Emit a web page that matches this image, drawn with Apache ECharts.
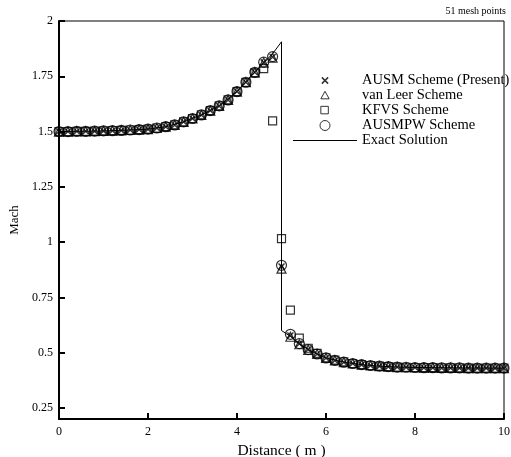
<!DOCTYPE html>
<html>
<head>
  <meta charset="utf-8">
  <title>Mach number - 51 mesh points</title>
  <script src="https://cdn.jsdelivr.net/npm/echarts@6/dist/echarts.min.js"></script>
  <style>html,body{margin:0;padding:0;background:#fff;}</style>
</head>
<body>
  <div id="chart" style="width: 511px; height: 457px;"></div>

  <script>
    // mesh positions (m)
    const distance = [0, 0.2, 0.4, 0.6, 0.8, 1.0, 1.2, 1.4, 1.6, 1.8, 2.0, 2.2, 2.4, 2.6, 2.8, 3.0, 3.2, 3.4, 3.6, 3.8,
      4.0, 4.2, 4.4, 4.6, 4.8, 5.0, 5.2, 5.4, 5.6, 5.8, 6.0, 6.2, 6.4, 6.6, 6.8, 7.0, 7.2, 7.4, 7.6, 7.8,
      8.0, 8.2, 8.4, 8.6, 8.8, 9.0, 9.2, 9.4, 9.6, 9.8, 10.0];

    // Mach numbers
    const ausm = [1.500, 1.500, 1.501, 1.501, 1.502, 1.503, 1.504, 1.505, 1.507, 1.509, 1.511, 1.516, 1.522, 1.530, 1.544,
      1.559, 1.575, 1.595, 1.616, 1.643, 1.681, 1.723, 1.768, 1.813, 1.837,
      0.890, 0.578, 0.540, 0.514, 0.494, 0.476, 0.465, 0.457, 0.451, 0.446, 0.442, 0.439, 0.437, 0.435, 0.434,
      0.433, 0.432, 0.432, 0.431, 0.431, 0.431, 0.430, 0.430, 0.430, 0.430, 0.430];
    const vanLeer = [1.500, 1.500, 1.501, 1.501, 1.502, 1.503, 1.504, 1.505, 1.507, 1.509, 1.511, 1.516, 1.522, 1.530, 1.544,
      1.559, 1.575, 1.595, 1.616, 1.643, 1.681, 1.723, 1.768, 1.812, 1.834,
      0.880, 0.572, 0.538, 0.513, 0.494, 0.476, 0.465, 0.457, 0.451, 0.446, 0.442, 0.439, 0.437, 0.435, 0.434,
      0.433, 0.432, 0.432, 0.431, 0.431, 0.431, 0.430, 0.430, 0.430, 0.430, 0.430];
    const kfvs = [1.500, 1.500, 1.501, 1.501, 1.502, 1.503, 1.504, 1.505, 1.507, 1.509, 1.511, 1.516, 1.522, 1.530, 1.544,
      1.559, 1.575, 1.595, 1.616, 1.643, 1.681, 1.722, 1.765, 1.785, 1.548,
      1.016, 0.692, 0.566, 0.520, 0.497, 0.477, 0.466, 0.458, 0.451, 0.446, 0.442, 0.439, 0.437, 0.435, 0.434,
      0.433, 0.432, 0.432, 0.431, 0.431, 0.431, 0.430, 0.430, 0.430, 0.430, 0.430];
    const ausmpw = [1.500, 1.500, 1.501, 1.501, 1.502, 1.503, 1.504, 1.505, 1.507, 1.509, 1.511, 1.516, 1.522, 1.530, 1.544,
      1.559, 1.575, 1.595, 1.616, 1.643, 1.681, 1.723, 1.768, 1.814, 1.839,
      0.895, 0.583, 0.541, 0.514, 0.494, 0.476, 0.465, 0.457, 0.451, 0.446, 0.442, 0.439, 0.437, 0.435, 0.434,
      0.433, 0.432, 0.432, 0.431, 0.431, 0.431, 0.430, 0.430, 0.430, 0.430, 0.430];

    // exact solution (shock at x = 5)
    const exactX = [0, 0.4, 0.8, 1.2, 1.6, 2.0, 2.4, 2.8, 3.2, 3.6, 4.0, 4.4, 4.8, 5.0, 5.0, 5.2, 5.4, 5.6, 5.8, 6.0,
      6.4, 6.8, 7.2, 7.6, 8.0, 9.0, 10.0];
    const exactM = [1.500, 1.501, 1.502, 1.504, 1.507, 1.511, 1.522, 1.544, 1.575, 1.616, 1.681, 1.770, 1.852, 1.906, 0.600, 0.574, 0.540, 0.514, 0.494, 0.476,
      0.457, 0.446, 0.439, 0.435, 0.433, 0.431, 0.430];

    const yTicks = [0.25, 0.5, 0.75, 1, 1.25, 1.5, 1.75, 2];

    const serif = 'Liberation Serif';
    const pairs = (xs, ys) => xs.map((x, i) => [x, ys[i]]);
    const hollow = { color: 'rgba(0,0,0,0)', borderColor: '#000', borderWidth: 1.2 };

    // legend icons (padding segments keep the aspect / shrink the glyph)
    const iconCross = 'path://M-3,-3h0.01M13,13h0.01M0,0L10,10M10,0L0,10';
    const iconTri = 'path://M-1,-1h0.01M11,11h0.01M5,0L10,9L0,9Z';
    const iconSquare = 'path://M-1,-1h0.01M11,11h0.01M0,0H9V9H0Z';
    const iconCircle = 'circle';
    const iconLine = 'path://M0,0H64V1H0Z';

    const chart = echarts.init(document.getElementById('chart'));

    chart.setOption({
      animation: false,
      title: {
        text: '51 mesh points',
        right: 0,
        top: 1,
        textStyle: { fontFamily: serif, fontSize: 10, fontWeight: 'normal', color: '#000' }
      },
      legend: {
        orient: 'vertical',
        left: 288,
        top: 68,
        itemWidth: 64,
        itemHeight: 10,
        itemGap: 0,
        symbolKeepAspect: true,
        textStyle: { fontFamily: serif, fontSize: 14.5, lineHeight: 15, color: '#000' },
        data: [
          { name: 'AUSM Scheme (Present)', icon: iconCross, itemStyle: { borderWidth: 1.5 } },
          { name: 'van Leer Scheme', icon: iconTri, itemStyle: { borderWidth: 1 } },
          { name: 'KFVS Scheme', icon: iconSquare, itemStyle: { borderWidth: 1 } },
          { name: 'AUSMPW Scheme', icon: iconCircle, itemStyle: { borderWidth: 1 } },
          { name: 'Exact Solution', icon: iconLine, itemStyle: { color: '#000', borderWidth: 0 } }
        ]
      },
      grid: {
        left: 59, right: 7, top: 21, bottom: 38,
        outerBoundsMode: 'none',
        show: true, borderColor: '#000', borderWidth: 1
      },
      xAxis: {
        type: 'value',
        min: 0, max: 10, interval: 2,
        name: 'Distance ( m )',
        nameLocation: 'middle',
        nameGap: 17,
        nameTextStyle: { fontFamily: serif, fontSize: 15.5, color: '#000' },
        axisLine: { lineStyle: { color: '#000', width: 2 } },
        axisTick: { inside: true, length: 6, lineStyle: { color: '#000', width: 2 } },
        axisLabel: { fontFamily: serif, fontSize: 12, color: '#000', margin: 7 },
        splitLine: { show: false }
      },
      yAxis: {
        type: 'value',
        min: 0.2, max: 2, interval: 0.05,
        name: 'Mach',
        nameLocation: 'middle',
        nameGap: 37,
        nameTextStyle: { fontFamily: serif, fontSize: 13, color: '#000' },
        axisLine: { lineStyle: { color: '#000', width: 2 } },
        axisTick: { inside: true, length: 6, customValues: yTicks, lineStyle: { color: '#000', width: 2 } },
        axisLabel: { fontFamily: serif, fontSize: 12, color: '#000', margin: 6, customValues: yTicks },
        splitLine: { show: false }
      },
      series: [
        {
          name: 'AUSM Scheme (Present)', type: 'scatter',
          symbol: 'path://M0,0L10,10M10,0L0,10', symbolSize: 6,
          itemStyle: { color: 'rgba(0,0,0,0)', borderColor: '#000', borderWidth: 1.5 },
          data: pairs(distance, ausm)
        },
        {
          name: 'van Leer Scheme', type: 'scatter',
          symbol: 'triangle', symbolSize: 9,
          itemStyle: hollow,
          data: pairs(distance, vanLeer)
        },
        {
          name: 'KFVS Scheme', type: 'scatter',
          symbol: 'rect', symbolSize: 8,
          itemStyle: hollow,
          data: pairs(distance, kfvs)
        },
        {
          name: 'AUSMPW Scheme', type: 'scatter',
          symbol: 'circle', symbolSize: 10,
          itemStyle: hollow,
          data: pairs(distance, ausmpw)
        },
        {
          name: 'Exact Solution', type: 'line',
          symbol: 'none',
          lineStyle: { color: '#000', width: 1 },
          itemStyle: { color: '#000' },
          z: 1,
          data: pairs(exactX, exactM)
        }
      ]
    });
  </script>
</body>
</html>
